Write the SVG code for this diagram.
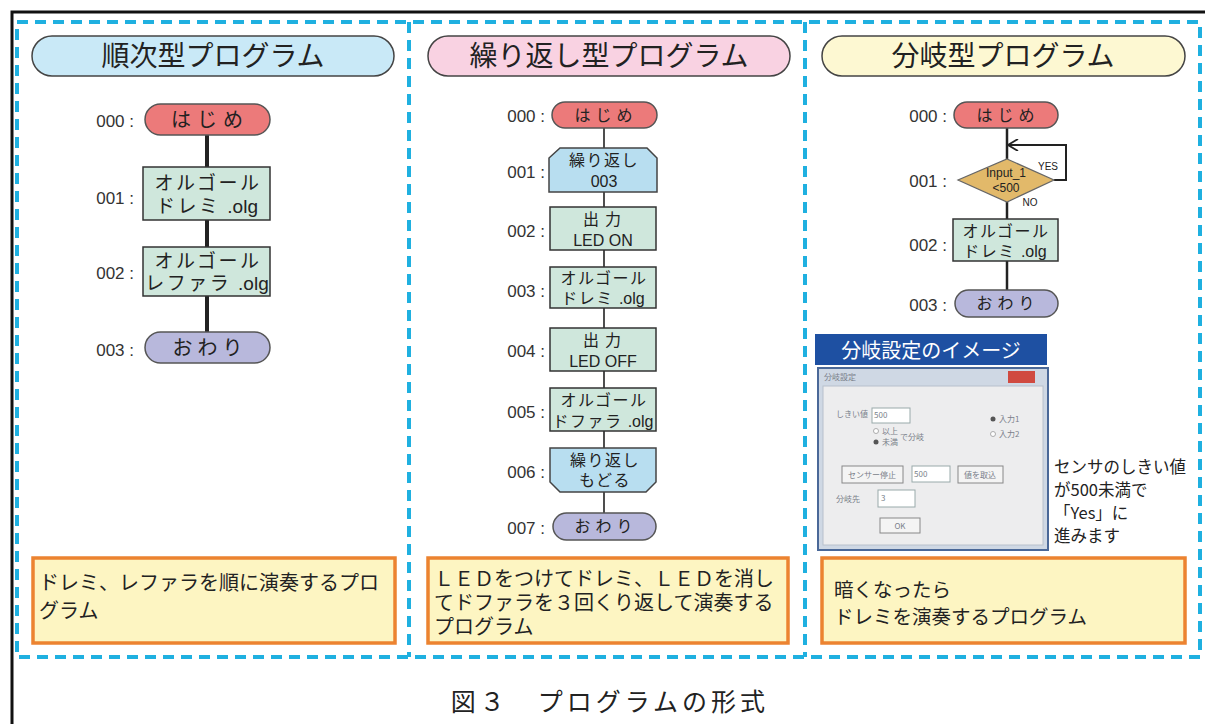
<svg xmlns="http://www.w3.org/2000/svg" width="1205" height="724" viewBox="0 0 1205 724">
<style>
.jp{font-family:"Noto Sans CJK JP","Noto Sans",sans-serif;fill:#222}
.lbl{font-family:"Liberation Sans",Arial,sans-serif;font-size:17px;fill:#333;text-anchor:end}
.hdr{font-family:"Noto Sans CJK JP",sans-serif;font-size:28px;fill:#222;text-anchor:middle}
.pill{stroke:#444;stroke-width:1.5}
.box{fill:#cfe7dc;stroke:#333;stroke-width:1.5}
.start{fill:#ec7a7a;stroke:#555;stroke-width:1.5}
.end{fill:#b8b8dc;stroke:#555;stroke-width:1.5}
.loop{fill:#b8def0;stroke:#444;stroke-width:1.5}
.note{fill:#fdf5c2;stroke:#ec8330;stroke-width:3.5}
.dash{fill:none;stroke:#1fb0e0;stroke-width:4;stroke-dasharray:11 7}
.n1{font-family:"Noto Sans CJK JP",sans-serif;font-size:19px;fill:#222;text-anchor:middle;letter-spacing:2.5px}
.n2{font-family:"Noto Sans CJK JP",sans-serif;font-size:16px;fill:#222;text-anchor:middle;letter-spacing:1.5px}
.ol{font-family:"Liberation Sans",Arial,sans-serif;letter-spacing:0}
.en{font-family:"Liberation Sans",Arial,sans-serif;fill:#222;text-anchor:middle}
.nt{font-family:"Noto Sans CJK JP",sans-serif;fill:#222}
.dl{font-family:"Noto Sans CJK JP",sans-serif;font-size:8px;fill:#7a7f8a}
</style>
<defs>
<marker id="open" markerWidth="12" markerHeight="12" refX="11" refY="6" orient="auto" markerUnits="userSpaceOnUse">
<path d="M1,0 L11,6 L1,12" fill="none" stroke="#222" stroke-width="1.8"/>
</marker>
</defs>
<rect width="1205" height="724" fill="#fff"/>
<!-- outer frame -->
<path d="M12,724 L12,12 L1205,12" fill="none" stroke="#111" stroke-width="3"/>
<rect class="dash" x="17" y="22" width="1183" height="635"/>
<line class="dash" x1="409" y1="22" x2="409" y2="657"/>
<line class="dash" x1="805" y1="22" x2="805" y2="657"/>

<!-- headers -->
<g id="header1"><rect class="pill" x="32" y="36" width="362" height="40" rx="20" fill="#c9e9f7"/><text class="hdr" x="213" y="66">順次型プログラム</text></g>
<g id="header2"><rect class="pill" x="428" y="36" width="362" height="40" rx="20" fill="#f9d2e2"/><text class="hdr" x="609" y="66">繰り返し型プログラム</text></g>
<g id="header3"><rect class="pill" x="822" y="36" width="363" height="40" rx="20" fill="#fdf8d2"/><text class="hdr" x="1003" y="66">分岐型プログラム</text></g>

<!-- connectors -->
<g id="connectors" stroke="#222" fill="none">
<line x1="207" y1="135" x2="207" y2="167" stroke-width="4"/>
<line x1="207" y1="220" x2="207" y2="247" stroke-width="4"/>
<line x1="207" y1="296" x2="207" y2="332" stroke-width="4"/>
<g stroke-width="1.6">
<line x1="604" y1="128" x2="604" y2="148"/>
<line x1="604" y1="192" x2="604" y2="207"/>
<line x1="604" y1="250" x2="604" y2="267"/>
<line x1="604" y1="308" x2="604" y2="328"/>
<line x1="604" y1="371" x2="604" y2="388"/>
<line x1="604" y1="431" x2="604" y2="448"/>
<line x1="604" y1="492" x2="604" y2="513"/>
</g>
<g stroke-width="2.5">
<line x1="1007" y1="128" x2="1007" y2="159"/>
<line x1="1007" y1="202" x2="1007" y2="219"/>
<line x1="1007" y1="261" x2="1007" y2="290"/>
<polyline points="1054,180 1066,180 1066,145 1008,145" marker-end="url(#open)" stroke-width="2"/>
</g>
</g>

<!-- panel 1 nodes -->
<g id="p1_000"><text class="lbl" x="134" y="127">000 :</text><rect class="start" x="145" y="104" width="125" height="31" rx="15.5"/><text class="n1" x="210" y="127" style="letter-spacing:6px;font-size:20px">はじめ</text></g>
<g id="p1_001"><text class="lbl" x="134" y="204">001 :</text><rect class="box" x="143" y="167" width="127" height="53"/><text class="n1" x="208" y="190">オルゴール</text><text class="n1" x="207" y="213">ドレミ <tspan class="ol">.olg</tspan></text></g>
<g id="p1_002"><text class="lbl" x="134" y="279">002 :</text><rect class="box" x="143" y="247" width="127" height="49"/><text class="n1" x="208" y="268">オルゴール</text><text class="n1" x="207" y="290">レファラ <tspan class="ol">.olg</tspan></text></g>
<g id="p1_003"><text class="lbl" x="134" y="356">003 :</text><rect class="end" x="145" y="332" width="125" height="31" rx="15.5"/><text class="n1" x="210" y="355" style="letter-spacing:5px;font-size:20px">おわり</text></g>

<!-- panel 2 nodes -->
<g id="p2_000"><text class="lbl" x="545" y="122">000 :</text><rect class="start" x="552" y="102" width="105" height="26" rx="13"/><text class="n2" x="606" y="121" style="letter-spacing:5px">はじめ</text></g>
<g id="p2_001"><text class="lbl" x="545" y="178">001 :</text><path class="loop" d="M560,148 L647,148 L657,158 L657,192 L549,192 L549,158 Z"/><text class="n2" x="604" y="166">繰り返し</text><text class="en" x="604" y="187" font-size="16">003</text></g>
<g id="p2_002"><text class="lbl" x="545" y="237">002 :</text><rect class="box" x="550" y="207" width="106" height="43"/><text class="n2" x="605" y="225" style="letter-spacing:6px">出力</text><text class="en" x="603" y="246" font-size="16">LED ON</text></g>
<g id="p2_003"><text class="lbl" x="545" y="297">003 :</text><rect class="box" x="550" y="267" width="106" height="41"/><text class="n2" x="604" y="284">オルゴール</text><text class="n2" x="603" y="304">ドレミ <tspan class="ol">.olg</tspan></text></g>
<g id="p2_004"><text class="lbl" x="545" y="357">004 :</text><rect class="box" x="550" y="328" width="106" height="43"/><text class="n2" x="605" y="346" style="letter-spacing:6px">出力</text><text class="en" x="603" y="367" font-size="16">LED OFF</text></g>
<g id="p2_005"><text class="lbl" x="545" y="418">005 :</text><rect class="box" x="550" y="388" width="106" height="43"/><text class="n2" x="604" y="406">オルゴール</text><text class="n2" x="603" y="427">ドファラ <tspan class="ol">.olg</tspan></text></g>
<g id="p2_006"><text class="lbl" x="545" y="478">006 :</text><path class="loop" d="M550,448 L656,448 L656,482 L646,492 L560,492 L550,482 Z"/><text class="n2" x="605" y="466">繰り返し</text><text class="n2" x="605" y="486">もどる</text></g>
<g id="p2_007"><text class="lbl" x="545" y="534">007 :</text><rect class="end" x="553" y="513" width="103" height="27" rx="13.5"/><text class="n2" x="606" y="532" style="letter-spacing:5px">おわり</text></g>

<!-- panel 3 nodes -->
<g id="p3_000"><text class="lbl" x="947" y="122">000 :</text><rect class="start" x="954" y="102" width="104" height="26" rx="13"/><text class="n2" x="1008" y="121" style="letter-spacing:5px">はじめ</text></g>
<g id="p3_001"><text class="lbl" x="947" y="187">001 :</text><path d="M1007,159 L1054,180 L1007,202 L958,180 Z" fill="#e2b96a" stroke="#666" stroke-width="1.2"/><text class="en" x="1006" y="177" font-size="12">Input_1</text><text class="en" x="1006" y="192" font-size="12">&lt;500</text><text class="en" x="1048" y="170" font-size="10">YES</text><text class="en" x="1030" y="206" font-size="10">NO</text></g>
<g id="p3_002"><text class="lbl" x="947" y="251">002 :</text><rect class="box" x="953" y="219" width="105" height="42"/><text class="n2" x="1006" y="237">オルゴール</text><text class="n2" x="1005" y="257">ドレミ <tspan class="ol">.olg</tspan></text></g>
<g id="p3_003"><text class="lbl" x="947" y="311">003 :</text><rect class="end" x="955" y="290" width="103" height="27" rx="13.5"/><text class="n2" x="1008" y="309" style="letter-spacing:5px">おわり</text></g>

<!-- branch setting image -->
<g id="banner"><rect x="815" y="334" width="232" height="31" fill="#1e50a2"/><text x="931" y="358" font-family="Noto Sans CJK JP,sans-serif" font-size="20" fill="#fff" text-anchor="middle">分岐設定のイメージ</text></g>
<g id="dialog">
<rect x="817" y="367" width="232" height="184" fill="#4a6898"/>
<rect x="819" y="369" width="228" height="180" fill="#cfd8e4"/>
<rect x="1008" y="371" width="27" height="12" fill="#d04a40"/>
<text class="dl" x="824" y="380">分岐設定</text>
<rect x="823" y="386" width="220" height="159" fill="#ededee" stroke="#b8c0cc" stroke-width="1"/>
<text class="dl" x="836" y="417">しきい値</text>
<rect x="872" y="408" width="38" height="15" fill="#fff" stroke="#9aa" stroke-width="1"/>
<text class="dl" x="874" y="418">500</text>
<circle cx="876" cy="431" r="2.5" fill="#fff" stroke="#999" stroke-width="0.8"/><text class="dl" x="882" y="434">以上</text>
<circle cx="876" cy="442" r="2.5" fill="#555"/><text class="dl" x="882" y="445">未満</text>
<text class="dl" x="900" y="440">で分岐</text>
<circle cx="993" cy="419" r="2.5" fill="#555"/><text class="dl" x="999" y="422">入力1</text>
<circle cx="993" cy="434" r="2.5" fill="#fff" stroke="#999" stroke-width="0.8"/><text class="dl" x="999" y="437">入力2</text>
<rect x="842" y="466" width="61" height="17" fill="#f4f4f4" stroke="#888" stroke-width="1"/><text class="dl" x="872" y="478" text-anchor="middle">センサー停止</text>
<rect x="912" y="466" width="38" height="16" fill="#fff" stroke="#9aa" stroke-width="1"/><text class="dl" x="914" y="477">500</text>
<rect x="958" y="466" width="45" height="17" fill="#f4f4f4" stroke="#888" stroke-width="1"/><text class="dl" x="980" y="478" text-anchor="middle">値を取込</text>
<text class="dl" x="836" y="502">分岐先</text>
<rect x="878" y="490" width="37" height="17" fill="#fff" stroke="#9aa" stroke-width="1"/><text class="dl" x="881" y="501">3</text>
<rect x="880" y="518" width="40" height="15" fill="#f4f4f4" stroke="#888" stroke-width="1"/><text class="dl" x="900" y="529" text-anchor="middle">OK</text>
</g>
<g id="side_note" class="nt" font-size="16.5">
<text x="1054" y="473">センサのしきい値</text>
<text x="1054" y="496">が500未満で</text>
<text x="1054" y="519">「Yes」に</text>
<text x="1054" y="542">進みます</text>
</g>

<!-- description boxes -->
<g id="note1"><rect class="note" x="33" y="558" width="362" height="85"/><text class="nt" font-size="20" x="39" y="590">ドレミ、レファラを順に演奏するプロ</text><text class="nt" font-size="20" x="39" y="618">グラム</text></g>
<g id="note2"><rect class="note" x="428" y="558" width="360" height="85"/><text class="nt" font-size="20" x="434" y="586">ＬＥＤをつけてドレミ、ＬＥＤを消し</text><text class="nt" font-size="20" x="434" y="610">てドファラを３回くり返して演奏する</text><text class="nt" font-size="20" x="434" y="634">プログラム</text></g>
<g id="note3"><rect class="note" x="822" y="558" width="363" height="85"/><text class="nt" font-size="19.5" x="834" y="597">暗くなったら</text><text class="nt" font-size="19.5" x="834" y="624">ドレミを演奏するプログラム</text></g>

<text x="610" y="711" font-family="Liberation Serif,Noto Sans CJK JP,serif" font-size="25" fill="#222" text-anchor="middle" letter-spacing="4">図３　プログラムの形式</text>
</svg>
